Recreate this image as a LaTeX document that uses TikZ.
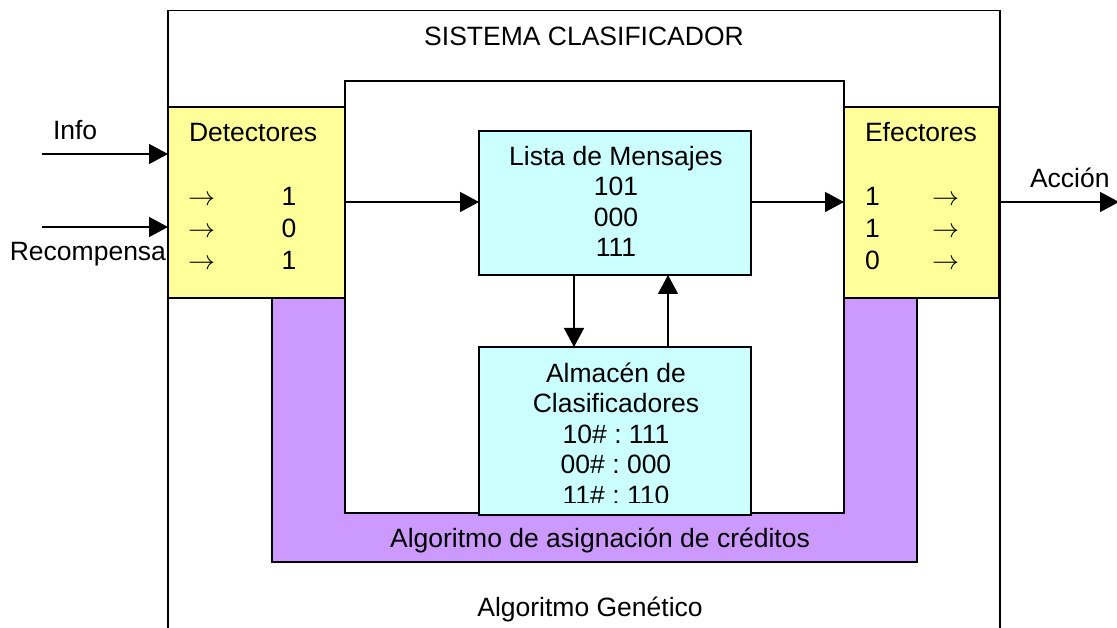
\documentclass[tikz,border=0pt]{standalone}
\usepackage{graphicx}
\usepackage{fontspec}
\setmainfont{Liberation Sans}
\usetikzlibrary{arrows.meta}
\definecolor{yelfill}{HTML}{FFFF99}
\definecolor{cyanfill}{HTML}{CCFFFF}
\definecolor{purpfill}{HTML}{CC99FF}
\frenchspacing
\newcommand{\rarr}{\resizebox{27pt}{!}{$\rightarrow$}}
\begin{document}
\begin{tikzpicture}[x=1pt,y=-1pt,
  box/.style={draw=black,line width=1.3pt,inner sep=0pt,outer sep=0pt,anchor=north west},
  lbl/.style={font=\fontsize{26.5}{30}\selectfont,inner sep=0pt,outer sep=0pt},
  arr/.style={line width=1.4pt,-{Triangle[length=19pt,width=20pt]}}]
\useasboundingbox (0,0) rectangle (1117,628);
\clip (0,0) rectangle (1117,628);
% boxes
\node[box,fill=white,minimum width=832pt,minimum height=660pt] (outer) at (168,10.5) {};
\node[box,fill=purpfill,minimum width=645pt,minimum height=282pt] (credit) at (272,280) {};
\node[box,fill=white,minimum width=499pt,minimum height=432pt] (inner) at (345,81) {};
\node[box,fill=yelfill,minimum width=177pt,minimum height=191pt] (det) at (168,107) {};
\node[box,fill=yelfill,minimum width=155pt,minimum height=191pt] (eff) at (844,107) {};
\node[box,fill=cyanfill,minimum width=272pt,minimum height=144pt] (lista) at (479,131) {};
\node[box,fill=cyanfill,minimum width=272pt,minimum height=168pt] (alm) at (479,347) {};
% coordinates for free ends
\coordinate (infoS) at (42,154);
\coordinate (recS) at (42,227);
\coordinate (accE) at (1119,202);
% connectors
\draw[arr] (infoS) -- (infoS -| det.west);
\draw[arr] (recS) -- (recS -| det.west);
\draw[arr] (det.east |- 0,202) -- (lista.west |- 0,202);
\draw[arr] (lista.east |- 0,202) -- (eff.west |- 0,202);
\draw[arr] (eff.east |- 0,202) -- (accE);
\draw[arr] (lista.south -| 574,0) -- (alm.north -| 574,0);
\draw[arr] (alm.north -| 668,0) -- (lista.south -| 668,0);
% texts
\node[lbl,anchor=base] (title) at (584,46) {SISTEMA CLASIFICADOR};
\node[lbl,anchor=base west] (info) at (53,140) {Info};
\node[lbl,anchor=base east] (rec) at (166,261) {Recompensa};
\node[lbl,anchor=base west] (detT) at (189,142) {Detectores};
\node[lbl,anchor=base west] (da1) at (188,206) {\rarr};
\node[lbl,anchor=base west] (da2) at (188,238) {\rarr};
\node[lbl,anchor=base west] (da3) at (188,270) {\rarr};
\node[lbl,anchor=base] (dv1) at (289,206) {1};
\node[lbl,anchor=base] (dv2) at (289,238) {0};
\node[lbl,anchor=base] (dv3) at (289,270) {1};
\node[lbl,anchor=base west] (effT) at (865,142) {Efectores};
\node[lbl,anchor=base west] (ev1) at (865,206) {1};
\node[lbl,anchor=base west] (ev2) at (865,238) {1};
\node[lbl,anchor=base west] (ev3) at (865,270) {0};
\node[lbl,anchor=base west] (ea1) at (932,206) {\rarr};
\node[lbl,anchor=base west] (ea2) at (932,238) {\rarr};
\node[lbl,anchor=base west] (ea3) at (932,270) {\rarr};
\node[lbl,anchor=base west] (acc) at (1030,188) {Acción};
\node[lbl,anchor=base] (l1) at (616,166) {Lista de Mensajes};
\node[lbl,anchor=base] (l2) at (616,196) {101};
\node[lbl,anchor=base] (l3) at (616,227) {000};
\node[lbl,anchor=base] (l4) at (616,257) {111};
\node[lbl,anchor=base] (a1) at (616,382) {Almacén de};
\node[lbl,anchor=base] (a2) at (616,412) {Clasificadores};
\node[lbl,anchor=base] (a3) at (616,443) {10\# : 111};
\node[lbl,anchor=base] (a4) at (616,473) {00\# : 000};
\begin{scope}
\clip (480,480) rectangle (750,502);
\node[lbl,anchor=base] (a5) at (616,504) {11\# : 110};
\end{scope}
\node[lbl,anchor=base] (cred) at (600,547) {Algoritmo de asignación de créditos};
\node[lbl,anchor=base] (gen) at (590,616) {Algoritmo Genético};
\end{tikzpicture}
\end{document}
